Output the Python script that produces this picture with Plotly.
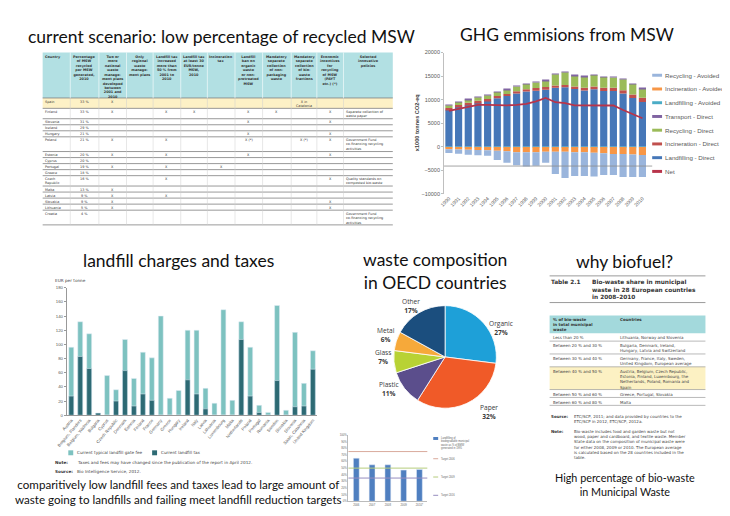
import plotly.graph_objects as go

W, H = 730, 516
def px(x): return x / W
def py(y): return 1 - y / H

TITLE_FONT = "Lato"
TEXT_FONT = "DejaVu Sans"
CHART_FONT = "Liberation Sans"

# ---------------- data: GHG emissions from MSW ----------------
years = [str(y) for y in range(1990, 2011)]
landfilling_direct = [7870, 8520, 8920, 9370, 9710, 10310, 10760, 11300, 11700, 11900, 12100,
                      12500, 12600, 12250, 11950, 12200, 11850, 11850, 11300, 10350, 9500]
incineration_direct = [350, 350, 400, 400, 400, 450, 450, 500, 500, 550, 600,
                       500, 500, 550, 550, 600, 650, 650, 700, 750, 900]
recycling_direct = [600, 650, 700, 750, 800, 850, 900, 1000, 1100, 1200, 1300,
                    2400, 2700, 2300, 2400, 2400, 2300, 2200, 2300, 2200, 1900]
transport_direct = [80, 80, 85, 85, 90, 90, 90, 95, 95, 95, 100,
                    100, 100, 100, 100, 100, 100, 100, 100, 95, 90]
landfilling_avoided = [-60, -60, -60, -60, -60, -60, -60, -60, -60, -60, -60,
                       -60, -60, -60, -60, -60, -60, -60, -60, -60, -60]
incineration_avoided = [-500, -550, -600, -650, -700, -800, -900, -1100, -1100, -1100, -1000,
                        -1000, -1000, -1100, -1100, -1200, -1300, -1500, -1500, -1600, -1700]
recycling_avoided = [-750, -900, -1050, -1100, -1150, -1950, -2450, -2750, -3050, -2850, -2350,
                     -4750, -5550, -5050, -5050, -5050, -4650, -4450, -4850, -4750, -4650]
net_emissions = [7600, 8050, 8500, 8900, 8900, 8800, 8800, 8900, 9100, 9650, 10350,
                 9450, 9250, 8800, 8800, 8800, 8800, 8750, 7800, 7000, 6050]
ghg_names = ["Landfilling - Direct", "Incineration - Direct", "Recycling - Direct", "Transport - Direct",
             "Landfilling - Avoided", "Incineration - Avoided", "Recycling - Avoided"]
ghg_colors = ["#4677b8", "#c0504d", "#9bbb59", "#8064a2", "#4bacc6", "#f79646", "#9ab5dc"]
ghg_legend_order = ["Recycling - Avoided", "Incineration - Avoided", "Landfilling - Avoided",
                    "Transport - Direct", "Recycling - Direct", "Incineration - Direct",
                    "Landfilling - Direct", "Net"]
net_color = "#b8344a"

# ---------------- data: landfill charges and taxes ----------------
lf_countries = ["Austria", "Belgium, Flanders", "Belgium, Wallonia", "Bulgaria", "Cyprus",
                "Czech Republic", "Denmark", "Estonia", "Finland", "France", "Germany", "Greece",
                "Hungary", "Ireland", "Italy", "Latvia", "Lithuania", "Luxembourg", "Malta",
                "Netherlands", "Poland", "Portugal", "Romania", "Sweden", "Slovakia", "Slovenia",
                "Spain, Catalonia", "United Kingdom"]
gate_fee = [96, 132, 115, 3, 56, 36, 107, 52, 89, 81, 140, 24, 35, 120, 120, 38, 17, 149, 21,
            132, 96, 14, 4, 155, 7, 117, 45, 91]
landfill_tax = [27, 83, 66, 3, 0, 20, 63, 13, 30, 21, 0, 0, 0, 50, 30, 9, 0, 0, 0,
                107, 27, 4, 0, 49, 0, 12, 13, 65]
lf_legend = ["Current typical landfill gate fee", "Current landfill tax"]
lf_colors = ["#7dc2c0", "#2d6a74"]

# ---------------- data: waste composition ----------------
pie_labels = ["Organic", "Paper", "Plastic", "Glass", "Metal", "Other"]
pie_values = [27, 32, 11, 7, 6, 17]
pie_colors = ["#1ea0d8", "#f05a28", "#5b4e8c", "#b8d234", "#f6a93a", "#1b4e7e"]

# ---------------- data: small landfilling chart ----------------
bm_years = ["2006", "2007", "2008", "2009", "2010*"]
bm_values = [65, 55, 55, 47, 48]
target_values = [75, 50, 35]
target_names = ["Target 2006", "Target 2009", "Target 2016"]
target_colors = ["#d9aa9c", "#b5cc7c", "#958dbf"]
bm_series_name = "Landfilling of<br>biodegradable municipal<br>waste as % of BMW<br>generated in 1995"

# ---------------- data: policy table ----------------
tbl_headers = ["Country", "Percentage<br>of MSW<br>recycled<br>per MSW<br>generated,<br>2010",
               "Two or<br>more<br>national<br>waste<br>manage-<br>ment plans<br>developed<br>between<br>2001 and<br>2010",
               "Only<br>regional<br>waste<br>manage-<br>ment plans",
               "Landfill tax<br>increased<br>more than<br>50 % from<br>2001 to<br>2010",
               "Landfill tax<br>at least 30<br>EUR/tonne<br>MSW,<br>2010",
               "Incineration<br>tax",
               "Landfill<br>ban on<br>organic<br>waste<br>or non-<br>pretreated<br>MSW",
               "Mandatory<br>separate<br>collection<br>of non-<br>packaging<br>waste",
               "Mandatory<br>separate<br>collection<br>of bio-<br>waste<br>fractions",
               "Economic<br>incentives<br>for<br>recycling<br>of MSW<br>(PAYT<br>etc.) (*)",
               "Selected<br>innovative<br>policies"]
countries = ["Spain", "Finland", "Slovenia", "Iceland", "Hungary", "Poland", "Estonia", "Cyprus",
             "Portugal", "Greece", "Czech<br>Republic", "Malta", "Latvia", "Slovakia", "Lithuania", "Croatia"]
recycled_pct = ["33 %", "33 %", "31 %", "29 %", "21 %", "21 %", "20 %", "20 %", "19 %", "18 %",
                "16 %", "13 %", "9 %", "9 %", "5 %", "4 %"]
two_plans = ["X", "X", "", "", "", "X", "X", "", "X", "", "", "X", "X", "X", "X", ""]
regional_plans = ["", "", "", "", "", "", "", "", "", "", "", "", "", "", "", ""]
tax_increase = ["", "X", "", "", "", "X", "X", "", "X", "", "X", "", "X", "", "", ""]
tax_30 = ["", "X", "", "", "", "", "", "", "", "", "", "", "", "", "", ""]
incineration_tax = ["", "", "", "", "", "", "", "", "X", "", "", "", "", "", "", ""]
landfill_ban = ["", "X", "X", "", "X", "X (*)", "X", "", "", "", "", "", "", "", "", ""]
nonpack_collection = ["", "X", "", "", "", "", "", "", "", "", "", "", "", "", "", ""]
biowaste_collection = ["X in<br>Catalonia", "", "", "", "", "X (*)", "", "", "", "", "", "", "", "", "", ""]
econ_incentives = ["", "X", "X", "", "X", "X", "X", "", "", "", "X", "", "", "X", "X", ""]
innovative_policies = ["", "Separate collection of<br>waste paper", "", "", "",
                       "Government Fund<br>co-financing recycling<br>activities", "", "", "", "",
                       "Quality standards on<br>composted bio-waste", "", "", "", "",
                       "Government Fund<br>co-financing recycling<br>activities"]
highlight_country = "Spain"

# ---------------- data: bio-waste table ----------------
bw_headers = ["% of bio-waste<br>in total municipal<br>waste", "Countries"]
bw_ranges = ["Less than 20 %", "Between 20 % and 30 %", "Between 30 % and 40 %",
             "Between 40 % and 50 %", "Between 50 % and 60 %", "Between 60 % and 80 %"]
bw_countries = ["Lithuania, Norway and Slovenia",
                "Bulgaria, Denmark, Ireland,<br>Hungary, Latvia and Switzerland",
                "Germany, France, Italy, Sweden,<br>United Kingdom, European average",
                "Austria, Belgium, Czech Republic,<br>Estonia, Finland, Luxembourg, the<br>Netherlands, Poland, Romania and<br>Spain",
                "Greece, Portugal, Slovakia", "Malta"]
bw_highlight = "Between 40 % and 50 %"

fig = go.Figure()
shapes = []
anns = []

def ann(x, y, text, size, color="#222", xanchor="center", yanchor="middle", family=TEXT_FONT,
        align="left", angle=0):
    anns.append(dict(x=px(x), y=py(y), xref="paper", yref="paper", text=text, showarrow=False,
                     font=dict(size=size, color=color, family=family), xanchor=xanchor,
                     yanchor=yanchor, align=align, textangle=angle, borderpad=0))

def rect(x0, y0, x1, y1, fill, line=None, lw=0):
    shapes.append(dict(type="rect", xref="paper", yref="paper", x0=px(x0), x1=px(x1),
                       y0=py(y1), y1=py(y0), fillcolor=fill,
                       line=dict(color=line or fill, width=lw), layer="below"))

def hline(x0, x1, y, color, width):
    shapes.append(dict(type="line", xref="paper", yref="paper", x0=px(x0), x1=px(x1),
                       y0=py(y), y1=py(y), line=dict(color=color, width=width)))

def vline(x, y0, y1, color, width):
    shapes.append(dict(type="line", xref="paper", yref="paper", x0=px(x), x1=px(x),
                       y0=py(y0), y1=py(y1), line=dict(color=color, width=width)))

# ---------------- titles ----------------
TS = 17.5
ann(206, 26, "current scenario: low percentage of recycled MSW", TS, "#111", family=TITLE_FONT)
ann(557, 24, "GHG emmisions from MSW", TS, "#111", family=TITLE_FONT)
ann(163, 252, "landfill charges and taxes", TS, "#111", family=TITLE_FONT)
ann(423, 263, "waste composition<br>in OECD countries", TS, "#111", family=TITLE_FONT, align="center")
ann(615, 253, "why biofuel?", TS, "#111", family=TITLE_FONT)

# ---------------- GHG chart ----------------
ghg_data = [landfilling_direct, incineration_direct, recycling_direct, transport_direct,
            landfilling_avoided, incineration_avoided, recycling_avoided]
for name, vals, col in zip(ghg_names, ghg_data, ghg_colors):
    fig.add_trace(go.Bar(x=years, y=vals, name=name, marker=dict(color=col, line=dict(width=0)),
                         width=0.74, xaxis="x", yaxis="y", showlegend=False))
fig.add_trace(go.Scatter(x=years, y=net_emissions, name="Net", mode="lines",
                         line=dict(color=net_color, width=1.8), xaxis="x", yaxis="y", showlegend=False))
shapes.append(dict(type="line", xref="paper", yref="y", x0=px(432), x1=px(643), y0=-4100, y1=-4100,
                   line=dict(color="#8c8c8c", width=0.8)))
color_of = dict(zip(ghg_names, ghg_colors))
color_of["Net"] = net_color
for i, name in enumerate(ghg_legend_order):
    yy = 65 + 13.9 * i
    rect(643, yy - 1.5, 653, yy + 1.5, color_of[name])
    ann(655, yy, name, 6.2, "#595959", xanchor="left", family=CHART_FONT)
ann(404, 113, "<b>x1000 tonnes CO2-eq</b>", 5.6, "#404040", family=CHART_FONT, angle=-90)

# ---------------- landfill chart ----------------
fig.add_trace(go.Bar(x=lf_countries, y=gate_fee, name=lf_legend[0], marker=dict(color=lf_colors[0]),
                     width=0.55, xaxis="x2", yaxis="y2", showlegend=False))
fig.add_trace(go.Bar(x=lf_countries, y=landfill_tax, name=lf_legend[1], marker=dict(color=lf_colors[1]),
                     width=0.55, xaxis="x2", yaxis="y4", showlegend=False))
ann(37, 273, "EUR per tonne", 4.2, "#444", xanchor="left", family=TEXT_FONT)
rect(51, 444.5, 56, 449.5, lf_colors[0])
ann(59, 447, lf_legend[0], 4.2, "#444", xanchor="left")
rect(136, 444.5, 141, 449.5, lf_colors[1])
ann(144, 447, lf_legend[1], 4.2, "#444", xanchor="left")
ann(37, 457, "<b>Note:</b>", 4.2, "#333", xanchor="left")
ann(59, 457, "Taxes and fees may have changed since the publication of the report in April 2012.", 4.2, "#444", xanchor="left")
ann(37, 466, "<b>Source:</b>", 4.2, "#333", xanchor="left")
ann(59, 466, "Bio Intelligence Service, 2012.", 4.2, "#444", xanchor="left")
ann(163, 487, "comparitively low landfill fees and taxes lead to large amount of<br>waste going to landfills and failing meet landfill reduction targets",
    11.6, "#111", family=TITLE_FONT, align="center")

# ---------------- pie ----------------
fig.add_trace(go.Pie(labels=pie_labels, values=pie_values, sort=False, direction="clockwise",
                     rotation=0, marker=dict(colors=pie_colors, line=dict(color="white", width=0.8)),
                     textinfo="none",
                     domain=dict(x=[px(381), px(485)], y=[py(402), py(298)]), showlegend=False,
                     hoverinfo="label+percent"))
pie_label_pos = {"Organic": (490, 321), "Paper": (478, 406), "Plastic": (376, 382),
                 "Glass": (370, 350), "Metal": (373, 328), "Other": (398, 298)}
for lab, val in zip(pie_labels, pie_values):
    lx, ly = pie_label_pos[lab]
    ann(lx, ly, f"{lab}<br><b>{val}%</b>", 6.6, "#3a3a3a", family="Open Sans", align="center")

# ---------------- small bar chart ----------------
fig.add_trace(go.Bar(x=bm_years, y=bm_values, name="Landfilling", marker=dict(color="#4f7fc0"),
                     width=0.37, xaxis="x3", yaxis="y3", showlegend=False))
for t, c in zip(target_values, target_colors):
    shapes.append(dict(type="line", xref="x3 domain", yref="y3", x0=0, x1=1, y0=t, y1=t,
                       line=dict(color=c, width=1)))
rect(421, 431, 426, 434, "#4f7fc0")
ann(428, 429, bm_series_name, 2.6, "#666", xanchor="left", yanchor="top", family=CHART_FONT)
for i, (n, c) in enumerate(zip(target_names, target_colors)):
    yy = 453 + 18.5 * i
    hline(421, 426, yy, c, 1)
    ann(428, yy, n, 2.6, "#666", xanchor="left", family=CHART_FONT)

# ---------------- policy table ----------------
t_x = [25, 53, 82, 110, 137, 165, 192, 220, 248, 277, 303, 330, 380]
t_top, t_head_h = 42, 46
line_h, pad = 4.4, 1.7
rect(t_x[0], t_top, t_x[-1], t_top + t_head_h, "#b2e0e3")
for j, htxt in enumerate(tbl_headers):
    if j == 0:
        ann(t_x[0] + 1.5, t_top + 1, "<b>" + htxt + "</b>", 3.4, "#333", xanchor="left", yanchor="top")
    else:
        ann((t_x[j] + t_x[j + 1]) / 2, t_top + 1, "<b>" + htxt + "</b>", 3.4, "#333",
            yanchor="top", align="center")
rows = list(zip(countries, recycled_pct, two_plans, regional_plans, tax_increase, tax_30,
                incineration_tax, landfill_ban, nonpack_collection, biowaste_collection,
                econ_incentives, innovative_policies))
y = t_top + t_head_h
hline(t_x[0], t_x[-1], y, "#7f7f7f", 0.8)
for row in rows:
    n = max(c.count("<br>") + 1 for c in row)
    h = n * line_h + pad
    if row[0] == highlight_country:
        rect(t_x[0], y, t_x[-1], y + h, "#fdf1c6")
    for j, txt in enumerate(row):
        if not txt:
            continue
        if j in (0, len(row) - 1):
            ann(t_x[j] + 1.5, y + 0.6, txt, 3.4, "#333", xanchor="left", yanchor="top")
        else:
            ann((t_x[j] + t_x[j + 1]) / 2, y + 0.6, txt, 3.4, "#333", yanchor="top", align="center")
    y += h
    hline(t_x[0], t_x[-1], y, "#7f7f7f", 0.8)
t_bottom = y
for xv in t_x[1:-1]:
    vline(xv, t_top, t_top + t_head_h, "#ffffff", 0.6)
    vline(xv, t_top + t_head_h, t_bottom, "#cfcfcf", 0.5)

# ---------------- bio-waste table ----------------
b_x = [539, 607, 697]
hline(539, 697, 268, "#9a9a9a", 1)
hline(539, 697, 295, "#9a9a9a", 1)
ann(539, 270, "<b>Table 2.1</b>", 5.8, "#333", xanchor="left", yanchor="top")
ann(581, 270, "<b>Bio-waste share in municipal<br>waste in 28 European countries<br>in 2008–2010</b>",
    5.8, "#333", xanchor="left", yanchor="top")
b_top, b_head_h = 308, 18
rect(b_x[0], b_top, b_x[-1], b_top + b_head_h, "#a3d9dc")
for j, htxt in enumerate(bw_headers):
    ann(b_x[j] + 2, b_top + 1, "<b>" + htxt + "</b>", 4.0, "#333", xanchor="left", yanchor="top")
y = b_top + b_head_h
bl_h, bpad = 5.0, 3.0
for r, c in zip(bw_ranges, bw_countries):
    n = max(r.count("<br>"), c.count("<br>")) + 1
    h = n * bl_h + bpad
    if r == bw_highlight:
        rect(b_x[0], y, b_x[-1], y + h, "#fcf1c3")
    ann(b_x[0] + 2, y + 1.2, r, 4.0, "#444", xanchor="left", yanchor="top")
    ann(b_x[1] + 2, y + 1.2, c, 4.0, "#444", xanchor="left", yanchor="top")
    y += h
    hline(b_x[0], b_x[-1], y, "#8c8c8c", 0.6)
ann(539, 407, "<b>Source:</b>", 4.0, "#333", xanchor="left", yanchor="top")
ann(563, 407, "ETC/SCP, 2011; and data provided by countries to the<br>ETC/SCP in 2012, ETC/SCP, 2012a.",
    4.0, "#444", xanchor="left", yanchor="top")
ann(539, 422, "<b>Note:</b>", 4.0, "#333", xanchor="left", yanchor="top")
ann(563, 422, "Bio-waste includes food and garden waste but not<br>wood, paper and cardboard, and textile waste. Member<br>"
              "State data on the composition of municipal waste were<br>for either 2008, 2009 or 2010. The European average<br>"
              "is calculated based on the 28 countries included in the<br>table.",
    4.0, "#444", xanchor="left", yanchor="top")
ann(615, 479, "High percentage of bio-waste<br>in Municipal Waste", 10.8, "#111", family=TITLE_FONT, align="center")

axis_common = dict(showgrid=False, zeroline=False)
fig.update_layout(
    width=W, height=H, margin=dict(l=0, r=0, t=0, b=0),
    paper_bgcolor="white", plot_bgcolor="white",
    barmode="relative", showlegend=False,
    font=dict(family=CHART_FONT),
    xaxis=dict(domain=[px(432), px(638)], anchor="y", type="category", tickangle=-45,
               tickfont=dict(size=5, color="#595959"), showline=False, ticks="", **axis_common),
    yaxis=dict(domain=[py(185), py(42)], anchor="x", range=[-10000, 20000], dtick=5000, tickformat="d",
               tickfont=dict(size=5.5, color="#595959"), showline=True, linecolor="#bfbfbf",
               ticks="outside", ticklen=2, tickcolor="#bfbfbf", **axis_common),
    xaxis2=dict(domain=[px(49.5), px(303.5)], anchor="y2", type="category", tickangle=-50,
                tickfont=dict(size=4.3, color="#555"), showline=True, linecolor="#999", ticks="",
                **axis_common),
    yaxis2=dict(domain=[py(409), py(280)], anchor="x2", range=[0, 180], dtick=20,
                tickfont=dict(size=4.3, color="#555"), showline=True, linecolor="#999",
                ticks="outside", ticklen=2, tickcolor="#999", **axis_common),
    yaxis4=dict(overlaying="y2", anchor="x2", range=[0, 180], visible=False, **axis_common),
    xaxis3=dict(domain=[px(335), px(415)], anchor="y3", type="category",
                tickfont=dict(size=2.8, color="#666"), showline=True, linecolor="#bbb", ticks="",
                **axis_common),
    yaxis3=dict(domain=[py(496), py(429)], anchor="x3", range=[0, 100], dtick=10, ticksuffix="%",
                tickfont=dict(size=2.8, color="#666"), showline=True, linecolor="#bbb", **axis_common),
    shapes=shapes, annotations=anns,
)
fig.write_html("out.html")
